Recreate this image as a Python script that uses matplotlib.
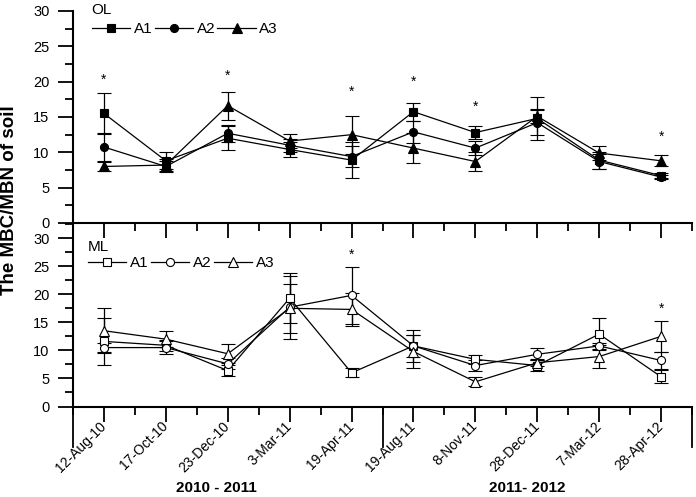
import matplotlib
matplotlib.use("Agg")
import matplotlib.pyplot as plt
from matplotlib.lines import Line2D
from matplotlib.ticker import MultipleLocator
import numpy as np

plt.rcParams['font.family'] = ['Liberation Sans', 'DejaVu Sans']

dates = ["12-Aug-10", "17-Oct-10", "23-Dec-10", "3-Mar-11", "19-Apr-11",
         "19-Aug-11", "8-Nov-11", "28-Dec-11", "7-Mar-12", "28-Apr-12"]
groups = ["2010 - 2011", "2011- 2012"]
series = ["A1", "A2", "A3"]

# OL panel (top)
ol_a1 = [15.5, 8.8, 12.0, 10.4, 8.9, 15.75, 12.8, 14.8, 8.9, 6.7]
ol_a1_err = [2.9, 1.2, 1.7, 1.0, 2.6, 1.3, 0.9, 3.1, 1.2, 0.4]
ol_a2 = [10.75, 8.0, 12.7, 11.0, 9.4, 12.9, 10.6, 14.2, 8.7, 6.5]
ol_a2_err = [2.0, 0.8, 1.2, 0.9, 1.5, 1.6, 1.0, 1.8, 1.0, 0.3]
ol_a3 = [8.0, 8.2, 16.6, 11.6, 12.5, 10.6, 8.7, 15.1, 9.9, 8.8]
ol_a3_err = [0.6, 0.8, 2.0, 1.0, 2.7, 2.1, 1.4, 1.0, 1.0, 0.8]
ol_star_pos = [1, 3, 5, 6, 7, 10]
ol_star_y = [20.2, 20.9, 18.5, 20.0, 16.4, 12.2]

# ML panel (bottom)
ml_a1 = [11.6, 10.9, 6.4, 19.3, 6.0, 10.8, 8.4, 7.3, 12.9, 5.3]
ml_a1_err = [4.2, 1.0, 1.0, 4.5, 0.8, 1.9, 0.8, 0.9, 2.8, 1.2]
ml_a2 = [10.5, 10.5, 7.6, 17.7, 19.8, 10.8, 7.3, 9.3, 10.8, 8.2]
ml_a2_err = [0.8, 1.2, 1.0, 5.6, 5.1, 2.8, 1.0, 1.1, 0.5, 1.6]
ml_a3 = [13.5, 12.0, 9.4, 17.5, 17.3, 9.8, 4.4, 7.8, 8.9, 12.5]
ml_a3_err = [4.0, 1.4, 1.7, 4.4, 3.0, 3.0, 0.8, 0.6, 2.1, 2.7]
ml_star_pos = [5, 10]
ml_star_y = [27.1, 17.4]

x = np.arange(1, len(dates) + 1)
markers = ['s', 'o', '^']

fig = plt.figure(figsize=(6.96, 4.97), dpi=100)
L, R = 73 / 696, 692 / 696
ax1 = fig.add_axes([L, 1 - 223 / 497, R - L, (223 - 11) / 497])
ax2 = fig.add_axes([L, 1 - 406.5 / 497, R - L, (406.5 - 223) / 497])


def draw(ax, data, errs, filled):
    for y, e, m in zip(data, errs, markers):
        ax.errorbar(x, y, yerr=e, color='black', lw=0.9, marker=m,
                    ms=6.5 if m == '^' else 5.8,
                    mfc='black' if filled else 'white', mec='black', mew=0.8,
                    capsize=5.3, capthick=0.9, elinewidth=0.9, zorder=3,
                    clip_on=False)


draw(ax1, [ol_a1, ol_a2, ol_a3], [ol_a1_err, ol_a2_err, ol_a3_err], True)
draw(ax2, [ml_a1, ml_a2, ml_a3], [ml_a1_err, ml_a2_err, ml_a3_err], False)

for ax, top in ((ax1, 30), (ax2, 32.7)):
    ax.set_xlim(0.5, 10.5)
    ax.set_ylim(0, top)
    ax.spines['top'].set_visible(False)
    ax.spines['right'].set_visible(False)
    for s in ('left', 'bottom'):
        ax.spines[s].set_linewidth(1.5)
    ax.yaxis.set_major_locator(MultipleLocator(5))
    ax.yaxis.set_minor_locator(MultipleLocator(2.5))
    ax.set_xticks(x)
    ax.set_xticks(np.arange(0.5, 11, 1), minor=True)
    ax.tick_params(which='major', direction='out', length=10.5, width=1.3,
                   labelsize=10.5, pad=6.5)
    ax.tick_params(which='minor', direction='out', length=6, width=1.3)
    ax.set_facecolor('none')

ax1.tick_params(axis='x', labelbottom=False)
ax1.spines['left'].set_bounds(0, 30)
ax2.set_xticklabels(dates, rotation=45, ha='right', va='center',
                    rotation_mode='anchor', fontsize=10)
ax2.tick_params(axis='x', which='major', pad=2)

for px, py in zip(ol_star_pos, ol_star_y):
    ax1.text(px, py, '*', ha='center', va='center', fontsize=10)
for px, py in zip(ml_star_pos, ml_star_y):
    ax2.text(px, py, '*', ha='center', va='center', fontsize=10)

# long separators below the axis
tr = ax2.get_xaxis_transform()
for sx in (0.5, 5.5, 10.5):
    ax2.plot([sx, sx], [0, -0.221], transform=tr, color='black', lw=1.3,
             clip_on=False)

for gx, g in zip((2.82, 7.84), groups):
    ax2.text(gx, -0.445, g, transform=tr, ha='center', va='center',
             fontsize=11, fontweight='bold')


def leg(ax, title, filled, anchor, sep):
    handles = [Line2D([], [], color='black', lw=0.9, marker=m,
                      ms=6.5 if m == '^' else 5.8,
                      mfc='black' if filled else 'white', mec='black', mew=0.8)
               for m in markers]
    lg = ax.legend(handles, series, ncol=3, frameon=False, title=title,
                   alignment='left', loc='upper left', bbox_to_anchor=anchor,
                   fontsize=11, title_fontsize=11, handlelength=2.5,
                   handletextpad=0.25, columnspacing=0.15, borderpad=0,
                   borderaxespad=0, labelspacing=0.2)
    lg._legend_box.sep = sep
    return lg


leg(ax1, 'OL', True, (0.03, 1.04), 4)
leg(ax2, 'ML', False, (0.024, 0.91), 2)

fig.text(10 / 696, 1 - 200 / 497, 'The MBC/MBN of soil', rotation=90,
         ha='center', va='center', fontsize=13.5, fontweight='bold')

fig.savefig('out.png', dpi=100)
